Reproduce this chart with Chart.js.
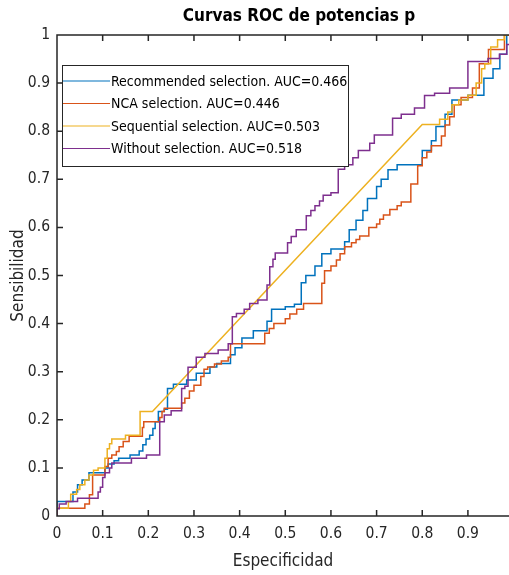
<!DOCTYPE html>
<html>
<head>
<meta charset="utf-8">
<script src="https://cdn.jsdelivr.net/npm/chart.js@4.4.0/dist/chart.umd.min.js"></script>
<style>
  body { margin: 0; background: #fff; }
  #wrap { width: 509px; height: 575px; }
</style>
</head>
<body>
<div id="wrap"><canvas id="roc"></canvas></div>
<script>
const FONT = "'DejaVu Sans Condensed', 'DejaVu Sans', sans-serif";

// tick values and labels
const xTicks = [0, 0.1, 0.2, 0.3, 0.4, 0.5, 0.6, 0.7, 0.8, 0.9];
const xTickLabels = ['0', '0.1', '0.2', '0.3', '0.4', '0.5', '0.6', '0.7', '0.8', '0.9'];
const yTicks = [0, 0.1, 0.2, 0.3, 0.4, 0.5, 0.6, 0.7, 0.8, 0.9, 1];
const yTickLabels = ['0', '0.1', '0.2', '0.3', '0.4', '0.5', '0.6', '0.7', '0.8', '0.9', '1'];

const chartTitle = 'Curvas ROC de potencias p';
const seriesNames = [
  'Recommended selection. AUC=0.466',
  'NCA selection. AUC=0.446',
  'Sequential selection. AUC=0.503',
  'Without selection. AUC=0.518'
];
const seriesColors = ['#0072BD', '#D95319', '#EDB120', '#7E2F8E'];

// ROC points: [especificidad, sensibilidad]
const recommended = [
  [0,0],[0,0.03],[0.035,0.03],[0.035,0.05],[0.045,0.05],[0.045,0.065],[0.055,0.065],[0.055,0.075],
  [0.07,0.075],[0.07,0.09],[0.105,0.09],[0.105,0.1],[0.112,0.1],[0.112,0.108],[0.125,0.108],[0.125,0.115],
  [0.135,0.115],[0.135,0.12],[0.16,0.12],[0.16,0.127],[0.18,0.127],[0.18,0.135],[0.188,0.135],[0.188,0.148],
  [0.195,0.148],[0.195,0.16],[0.203,0.16],[0.203,0.168],[0.21,0.168],[0.21,0.182],[0.215,0.182],[0.215,0.196],
  [0.222,0.196],[0.222,0.217],[0.235,0.217],[0.235,0.222],[0.242,0.222],[0.242,0.265],[0.255,0.265],[0.255,0.274],
  [0.284,0.274],[0.284,0.283],[0.305,0.283],[0.305,0.297],[0.335,0.297],[0.335,0.31],[0.35,0.31],[0.35,0.317],
  [0.38,0.317],[0.38,0.335],[0.39,0.335],[0.39,0.35],[0.405,0.35],[0.405,0.37],[0.43,0.37],[0.43,0.385],
  [0.46,0.385],[0.46,0.405],[0.47,0.405],[0.47,0.43],[0.5,0.43],[0.5,0.435],[0.52,0.435],[0.52,0.44],
  [0.535,0.44],[0.535,0.485],[0.545,0.485],[0.545,0.5],[0.565,0.5],[0.565,0.52],[0.58,0.52],[0.58,0.545],
  [0.6,0.545],[0.6,0.555],[0.63,0.555],[0.63,0.57],[0.64,0.57],[0.64,0.595],[0.655,0.595],[0.655,0.615],
  [0.67,0.615],[0.67,0.635],[0.68,0.635],[0.68,0.66],[0.7,0.66],[0.7,0.685],[0.71,0.685],[0.71,0.7],
  [0.725,0.7],[0.725,0.72],[0.745,0.72],[0.745,0.73],[0.8,0.73],[0.8,0.76],[0.82,0.76],[0.82,0.78],
  [0.83,0.78],[0.83,0.81],[0.85,0.81],[0.85,0.835],[0.865,0.835],[0.865,0.865],[0.9,0.865],[0.9,0.875],
  [0.935,0.875],[0.935,0.91],[0.955,0.91],[0.955,0.93],[0.97,0.93],[0.97,0.96],[0.985,0.96],[0.985,1],[1,1]
];
const nca = [
  [0,0],[0,0.016],[0.061,0.016],[0.061,0.025],[0.071,0.025],[0.071,0.044],[0.078,0.044],[0.078,0.085],
  [0.105,0.085],[0.105,0.103],[0.112,0.103],[0.112,0.12],[0.12,0.12],[0.12,0.127],[0.13,0.127],[0.13,0.134],
  [0.136,0.134],[0.136,0.144],[0.145,0.144],[0.145,0.155],[0.158,0.155],[0.158,0.166],[0.187,0.166],[0.187,0.184],
  [0.19,0.184],[0.19,0.196],[0.225,0.196],[0.225,0.205],[0.23,0.205],[0.23,0.217],[0.235,0.217],[0.235,0.224],
  [0.273,0.224],[0.273,0.235],[0.28,0.235],[0.28,0.245],[0.29,0.245],[0.29,0.26],[0.3,0.26],[0.3,0.272],
  [0.315,0.272],[0.315,0.29],[0.322,0.29],[0.322,0.305],[0.33,0.305],[0.33,0.31],[0.345,0.31],[0.345,0.316],
  [0.36,0.316],[0.36,0.322],[0.375,0.322],[0.375,0.33],[0.38,0.33],[0.38,0.358],[0.455,0.358],[0.455,0.38],
  [0.465,0.38],[0.465,0.39],[0.475,0.39],[0.475,0.4],[0.5,0.4],[0.5,0.41],[0.51,0.41],[0.51,0.42],
  [0.525,0.42],[0.525,0.43],[0.54,0.43],[0.54,0.442],[0.58,0.442],[0.58,0.484],[0.586,0.484],[0.586,0.51],
  [0.6,0.51],[0.6,0.52],[0.612,0.52],[0.612,0.532],[0.62,0.532],[0.62,0.545],[0.63,0.545],[0.63,0.56],
  [0.645,0.56],[0.645,0.568],[0.655,0.568],[0.655,0.575],[0.663,0.575],[0.663,0.582],[0.683,0.582],[0.683,0.6],
  [0.7,0.6],[0.7,0.607],[0.707,0.607],[0.707,0.617],[0.715,0.617],[0.715,0.626],[0.729,0.626],[0.729,0.637],
  [0.745,0.637],[0.745,0.645],[0.754,0.645],[0.754,0.653],[0.775,0.653],[0.775,0.69],[0.79,0.69],[0.79,0.728],
  [0.8,0.728],[0.8,0.745],[0.81,0.745],[0.81,0.757],[0.82,0.757],[0.82,0.77],[0.842,0.77],[0.842,0.79],
  [0.85,0.79],[0.85,0.813],[0.86,0.813],[0.86,0.83],[0.87,0.83],[0.87,0.855],[0.885,0.855],[0.885,0.87],
  [0.91,0.87],[0.91,0.89],[0.925,0.89],[0.925,0.94],[0.945,0.94],[0.945,0.97],[0.98,0.97],[0.98,1],[1,1]
];
const sequential = [
  [0,0],[0,0.016],[0.025,0.016],[0.025,0.03],[0.03,0.03],[0.03,0.045],[0.043,0.045],[0.043,0.055],
  [0.05,0.055],[0.05,0.065],[0.061,0.065],[0.061,0.075],[0.07,0.075],[0.07,0.085],[0.08,0.085],[0.08,0.095],
  [0.09,0.095],[0.09,0.1],[0.105,0.1],[0.105,0.12],[0.11,0.12],[0.11,0.14],[0.115,0.14],[0.115,0.15],
  [0.12,0.15],[0.12,0.16],[0.15,0.16],[0.15,0.168],[0.182,0.168],[0.182,0.217],[0.209,0.217],[0.8,0.814],
  [0.838,0.814],[0.838,0.825],[0.856,0.825],[0.856,0.84],[0.865,0.84],[0.865,0.855],[0.88,0.855],[0.88,0.865],
  [0.9,0.865],[0.9,0.875],[0.918,0.875],[0.918,0.9],[0.93,0.9],[0.93,0.93],[0.937,0.93],[0.937,0.94],
  [0.95,0.94],[0.95,0.975],[0.965,0.975],[0.965,0.99],[0.98,0.99],[0.98,1],[1,1]
];
const without = [
  [0,0],[0,0.015],[0.005,0.015],[0.005,0.025],[0.02,0.025],[0.02,0.03],[0.045,0.03],[0.045,0.037],
  [0.09,0.037],[0.09,0.05],[0.095,0.05],[0.095,0.06],[0.1,0.06],[0.1,0.08],[0.105,0.08],[0.105,0.09],
  [0.115,0.09],[0.115,0.1],[0.12,0.1],[0.12,0.11],[0.163,0.11],[0.163,0.12],[0.196,0.12],[0.196,0.127],
  [0.225,0.127],[0.225,0.196],[0.235,0.196],[0.235,0.21],[0.25,0.21],[0.25,0.219],[0.273,0.219],[0.273,0.265],
  [0.28,0.265],[0.28,0.27],[0.287,0.27],[0.287,0.309],[0.305,0.309],[0.305,0.33],[0.324,0.33],[0.324,0.338],
  [0.353,0.338],[0.353,0.345],[0.375,0.345],[0.375,0.358],[0.384,0.358],[0.384,0.414],[0.393,0.414],[0.393,0.421],
  [0.41,0.421],[0.41,0.43],[0.422,0.43],[0.422,0.442],[0.44,0.442],[0.44,0.449],[0.46,0.449],[0.46,0.48],
  [0.466,0.48],[0.466,0.518],[0.473,0.518],[0.473,0.534],[0.478,0.534],[0.478,0.547],[0.505,0.547],[0.505,0.568],
  [0.513,0.568],[0.513,0.581],[0.524,0.581],[0.524,0.595],[0.546,0.595],[0.546,0.624],[0.556,0.624],[0.556,0.635],
  [0.565,0.635],[0.565,0.645],[0.575,0.645],[0.575,0.655],[0.583,0.655],[0.583,0.667],[0.6,0.667],[0.6,0.672],
  [0.616,0.672],[0.616,0.721],[0.63,0.721],[0.63,0.73],[0.648,0.73],[0.648,0.745],[0.66,0.745],[0.66,0.76],
  [0.685,0.76],[0.685,0.775],[0.695,0.775],[0.695,0.792],[0.735,0.792],[0.735,0.827],[0.754,0.827],[0.754,0.835],
  [0.783,0.835],[0.783,0.848],[0.805,0.848],[0.805,0.874],[0.827,0.874],[0.827,0.879],[0.86,0.879],[0.86,0.89],
  [0.9,0.89],[0.9,0.945],[0.944,0.945],[0.944,0.951],[0.969,0.951],[0.969,0.96],[0.985,0.96],[0.985,0.98],[1,0.98],[1,1]
];

const allSeries = [recommended, nca, sequential, without];

// title, axes box, inward ticks and the boxed legend, matlab style
const matlabAxes = {
  id: 'matlabAxes',
  afterDraw(chart) {
    const { ctx, chartArea: a, scales: { x, y } } = chart;
    ctx.save();

    // title sits a bit right of the axes centre in the original
    ctx.fillStyle = '#000';
    ctx.font = 'bold 17px ' + FONT;
    ctx.textAlign = 'center';
    ctx.textBaseline = 'middle';
    ctx.fillText(chartTitle, 299, 17);

    ctx.strokeStyle = '#262626';
    ctx.lineWidth = 1.5;
    ctx.beginPath();
    ctx.moveTo(a.right, a.top); ctx.lineTo(a.left, a.top);
    ctx.lineTo(a.left, a.bottom); ctx.lineTo(a.right, a.bottom);
    xTicks.forEach(v => {
      if (v === 0) return;
      const p = x.getPixelForValue(v);
      ctx.moveTo(p, a.bottom); ctx.lineTo(p, a.bottom - 6);
      ctx.moveTo(p, a.top); ctx.lineTo(p, a.top + 6);
    });
    yTicks.forEach(v => {
      if (v === 0 || v === 1) return;
      const p = y.getPixelForValue(v);
      ctx.moveTo(a.left, p); ctx.lineTo(a.left + 6, p);
    });
    ctx.stroke();

    // legend box
    const lx = 62, ly = 65, lw = 286, lh = 101;
    ctx.fillStyle = '#fff';
    ctx.fillRect(lx, ly, lw, lh);
    ctx.lineWidth = 1;
    ctx.strokeStyle = '#262626';
    ctx.strokeRect(lx + 0.5, ly + 0.5, lw, lh);
    ctx.font = '14px ' + FONT;
    ctx.textAlign = 'left';
    seriesNames.forEach((name, i) => {
      const ry = 81 + i * 22.5;
      ctx.strokeStyle = seriesColors[i];
      ctx.lineWidth = 1.2;
      ctx.beginPath();
      ctx.moveTo(63, ry); ctx.lineTo(110, ry);
      ctx.stroke();
      ctx.fillStyle = '#000';
      ctx.fillText(name, 111, ry + 1);
    });
    ctx.restore();
  }
};

new Chart(document.getElementById('roc'), {
  type: 'scatter',
  data: {
    datasets: allSeries.map((pts, i) => ({
      label: seriesNames[i],
      data: pts.map(p => ({ x: p[0], y: p[1] })),
      showLine: true,
      borderColor: seriesColors[i],
      backgroundColor: seriesColors[i],
      borderWidth: 1.5,
      pointRadius: 0,
      tension: 0,
      order: 4 - i
    }))
  },
  options: {
    responsive: true,
    maintainAspectRatio: false,
    animation: false,
    layout: { padding: { top: 35, left: 0, right: 0, bottom: 0 } },
    plugins: {
      legend: { display: false },
      tooltip: { enabled: false },
      title: { display: false }
    },
    scales: {
      x: {
        type: 'linear',
        min: 0,
        max: 0.99,
        afterBuildTicks: s => { s.ticks = xTicks.map(v => ({ value: v })); },
        afterFit: s => { s.height = 59; },
        grid: { display: false, drawTicks: false },
        border: { display: false },
        ticks: {
          color: '#262626',
          font: { family: FONT, size: 15.5 },
          padding: 9,
          maxRotation: 0,
          callback: (v, i) => xTickLabels[i]
        },
        title: {
          display: true,
          text: 'Especificidad',
          color: '#262626',
          font: { family: FONT, size: 17 },
          padding: { top: 0, bottom: 3 }
        }
      },
      y: {
        type: 'linear',
        min: 0,
        max: 1,
        afterBuildTicks: s => { s.ticks = yTicks.map(v => ({ value: v })); },
        afterFit: s => { s.width = 57; },
        grid: { display: false, drawTicks: false },
        border: { display: false },
        ticks: {
          color: '#262626',
          font: { family: FONT, size: 15.5 },
          padding: 7,
          callback: (v, i) => yTickLabels[i]
        },
        title: {
          display: true,
          text: 'Sensibilidad',
          color: '#262626',
          font: { family: FONT, size: 17 },
          padding: { top: 8, bottom: 0 }
        }
      }
    }
  },
  plugins: [matlabAxes]
});
</script>
</body>
</html>
